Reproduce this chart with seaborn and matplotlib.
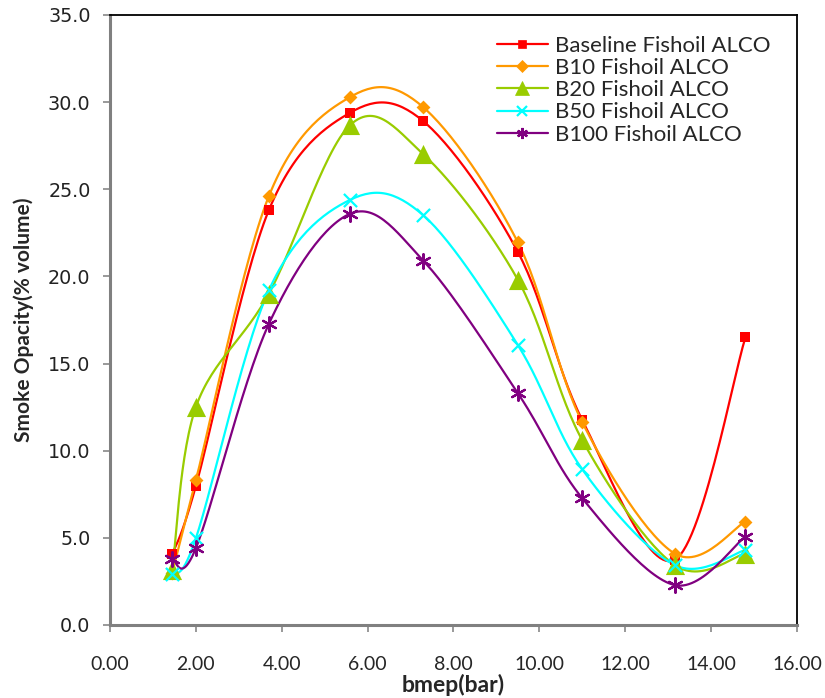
import numpy as np
import pandas as pd
import matplotlib
matplotlib.use("Agg")
import matplotlib.pyplot as plt
from matplotlib.lines import Line2D
import seaborn as sns

# ---- data ----
bmep = [1.45, 2.0, 3.7, 5.6, 7.3, 9.5, 11.0, 13.15, 14.8]
baseline = [4.05, 7.97, 23.8, 29.4, 28.9, 21.4, 11.76, 3.73, 16.5]
b10 = [3.0, 8.3, 24.6, 30.3, 29.7, 21.95, 11.63, 4.1, 5.93]
b20 = [3.15, 12.5, 19.0, 28.7, 27.0, 19.8, 10.6, 3.44, 4.1]
b50 = [2.9, 4.97, 19.2, 24.4, 23.5, 16.06, 8.93, 3.44, 4.3]
b100 = [3.77, 4.4, 17.27, 23.6, 20.9, 13.3, 7.27, 2.29, 5.07]

series_names = ["Baseline Fishoil ALCO", "B10 Fishoil ALCO", "B20 Fishoil ALCO",
                "B50 Fishoil ALCO", "B100 Fishoil ALCO"]
series_vals = [baseline, b10, b20, b50, b100]
colors = ["#FF0000", "#FF9900", "#99CC00", "#00FFFF", "#800080"]
markers = ["s", "D", "^", "x", (6, 2, 0)]
msizes = [62, 50, 190, 90, 110]
legend_ms = [6, 6.5, 10, 7.5, 8]


def excel_smooth(xs, ys, n=30):
    P = np.column_stack([xs, ys]).astype(float)
    m = len(P)
    out = []
    for i in range(m - 1):
        p0 = P[i - 1] if i > 0 else P[i]
        p1 = P[i]
        p2 = P[i + 1]
        p3 = P[i + 2] if i + 2 < m else P[i + 1]
        c1 = p1 + (p2 - p0) / 6.0
        c2 = p2 - (p3 - p1) / 6.0
        t = np.linspace(0, 1, n, endpoint=(i == m - 2))[:, None]
        seg = ((1 - t) ** 3) * p1 + 3 * ((1 - t) ** 2) * t * c1 + 3 * (1 - t) * t ** 2 * c2 + t ** 3 * p2
        out.append(seg)
    out = np.vstack(out)
    return out[:, 0], out[:, 1]


sns.set_style("white")
plt.rcParams["font.family"] = ["Lato", "DejaVu Sans"]

fig = plt.figure(figsize=(8.25, 6.98), dpi=100)
ax = fig.add_axes([0.1333, 0.1046, 0.8327, 0.874])

handles = []
for name, vals, c, mk, ms, lms in zip(series_names, series_vals, colors, markers, msizes, legend_ms):
    sx, sy = excel_smooth(bmep, vals)
    sns.lineplot(x=sx, y=sy, color=c, linewidth=1.6, sort=False, estimator=None, ax=ax)
    lw = 1.6 if mk in ("x", (6, 2, 0)) else 0
    sns.scatterplot(x=bmep, y=vals, color=c, marker=mk, s=ms, linewidth=lw,
                    edgecolor=c, ax=ax, zorder=3)
    handles.append(Line2D([0], [0], color=c, linewidth=1.6, marker=mk, markersize=lms,
                          markeredgewidth=1.6 if lw else 0.5, markerfacecolor=c, markeredgecolor=c))

ax.set_xlim(0, 16)
ax.set_ylim(0, 35)
ax.set_xticks(np.arange(0, 16.01, 2))
ax.set_xticklabels([f"{v:.2f}" for v in np.arange(0, 16.01, 2)])
ax.set_yticks(np.arange(0, 35.01, 5))
ax.set_yticklabels([f"{v:.1f}" for v in np.arange(0, 35.01, 5)], family=["DejaVu Sans"])

for lab in ax.get_xticklabels():
    lab.set_fontsize(14)
for lab in ax.get_yticklabels():
    lab.set_fontsize(13.8)
    lab.set_color("#222222")

ax.tick_params(axis="both", direction="out", length=5, width=1.2, color="#888888",
               bottom=True, left=True)
ax.tick_params(axis="y", pad=9)
ax.tick_params(axis="x", pad=17)

for side in ["left", "bottom"]:
    ax.spines[side].set_color("#808080")
    ax.spines[side].set_linewidth(2.2)
for side in ["top", "right"]:
    ax.spines[side].set_color("black")
    ax.spines[side].set_linewidth(1.3)
    ax.spines[side].set_visible(True)

ax.set_xlabel("bmep(bar)", fontsize=16.5, fontweight="bold", labelpad=1)
ax.set_ylabel("Smoke Opacity(% volume)", fontsize=15, fontweight="bold", labelpad=10)

leg = ax.legend(handles, series_names, loc="upper left", bbox_to_anchor=(0.563, 0.966),
                frameon=False, fontsize=16, handlelength=2.3, handletextpad=0.3,
                labelspacing=0.1, borderaxespad=0, borderpad=0)

fig.savefig("out.png", dpi=100)
